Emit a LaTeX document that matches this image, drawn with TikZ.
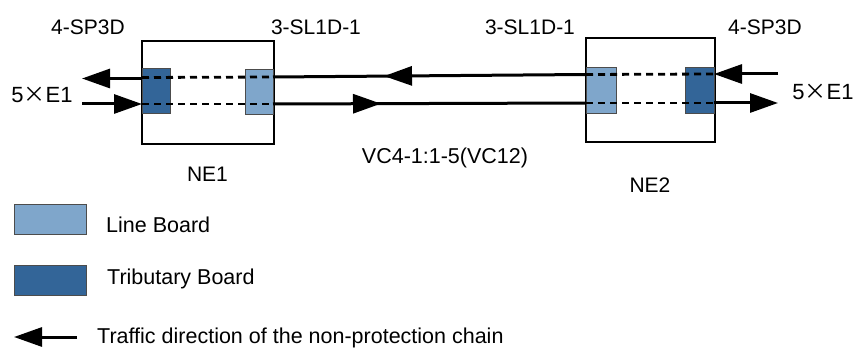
\documentclass[tikz,border=0pt]{standalone}
\usepackage{fontspec}
\setmainfont{Liberation Sans}
\newfontfamily\cjk{Noto Sans CJK SC}
\usetikzlibrary{arrows.meta,decorations.markings}
\definecolor{lineb}{HTML}{7FA6CB}
\definecolor{tribb}{HTML}{336598}
\tikzset{
  x=1pt,y=-1pt,
  nebox/.style={draw=black,line width=1.2pt,fill=white},
  lineboard/.style={draw=black!70,line width=0.8pt,fill=lineb,inner sep=0pt,anchor=north west},
  tribboard/.style={draw=black!70,line width=0.8pt,fill=tribb,inner sep=0pt,anchor=north west},
  lbl/.style={font=\fontsize{21}{23}\selectfont,inner sep=0pt},
  leg/.style={font=\fontsize{21.5}{24}\selectfont,inner sep=0pt,anchor=west},
  bigtip/.style={-{Triangle[length=28pt,width=19pt]}},
  solidln/.style={line width=3pt},
  dashln/.style={line width=2.8pt,dash pattern=on 7pt off 5pt},
  midarrow/.style={postaction={decorate},decoration={markings,mark=at position #1 with {\arrow{Triangle[length=28pt,width=19pt]}}}}
}
\begin{document}
\begin{tikzpicture}
\useasboundingbox (0,0) rectangle (855,350);
% NE boxes
\draw[nebox] (142,41) rectangle (274,144);
\draw[nebox] (586,38) rectangle (715,142);
% boards
\node[tribboard,minimum width=28pt,minimum height=45pt] (t1) at (142,68) {};
\node[lineboard,minimum width=28pt,minimum height=45pt] (l1) at (245,69) {};
\node[lineboard,minimum width=30pt,minimum height=46pt] (l2) at (586,67) {};
\node[tribboard,minimum width=29pt,minimum height=46pt] (t2) at (685,67) {};
% coordinates
\coordinate (a1) at (142,77.5);
\coordinate (b1) at (273,77);
\coordinate (c1) at (142,104);
\coordinate (d1) at (273,104);
\coordinate (a2) at (586,74.5);
\coordinate (b2) at (714,74);
\coordinate (c2) at (586,103);
\coordinate (d2) at (714,103);
\coordinate (o1) at (82,78.5);
\coordinate (i1) at (82,104);
\coordinate (i2) at (778,74);
\coordinate (o2) at (778,103);
% dashed internal
\draw[dashln] (a1) -- (b1);
\draw[dashln] (c1) -- (d1);
\draw[dashln] (a2) -- (b2);
\draw[dashln] (c2) -- (d2);
% links
\draw[solidln,midarrow=202pt] (a2) -- (b1);
\draw[solidln,midarrow=108pt] (d1) -- (c2);
% tributary in/out
\draw[solidln,bigtip] (142,78.5) -- (o1);
\draw[solidln,bigtip] (i1) -- (c1);
\draw[solidln,bigtip] (i2) -- (b2);
\draw[solidln,bigtip] (d2) -- (o2);
% labels
\node[lbl] (s1) at (88,27) {4-SP3D};
\node[lbl] (s2) at (316,27) {3-SL1D-1};
\node[lbl] (s3) at (530,27) {3-SL1D-1};
\node[lbl] (s4) at (765,27) {4-SP3D};
\node[lbl,font=\fontsize{22}{24}\selectfont] (e1) at (42,95) {5{\cjk ×}E1};
\node[lbl,font=\fontsize{22}{24}\selectfont] (e2) at (823,92) {5{\cjk ×}E1};
\node[lbl] (n1) at (207.5,174) {NE1};
\node[lbl] (n2) at (650,185) {NE2};
\node[lbl,font=\fontsize{21.5}{24}\selectfont] (vc) at (445,158) {VC4-1:1-5(VC12)};
% legend
\node[lineboard,minimum width=72pt,minimum height=30pt] (lg1) at (14,204) {};
\node[tribboard,minimum width=72pt,minimum height=30pt] (lg2) at (14,265) {};
\node[leg] (lt1) at (106,225) {Line Board};
\node[leg] (lt2) at (107,279) {Tributary Board};
\coordinate (la1) at (77,337);
\coordinate (la2) at (14,337);
\draw[solidln,bigtip] (la1) -- (la2);
\node[leg] (lt3) at (97,338) {Traffic direction of the non-protection chain};
\end{tikzpicture}
\end{document}
